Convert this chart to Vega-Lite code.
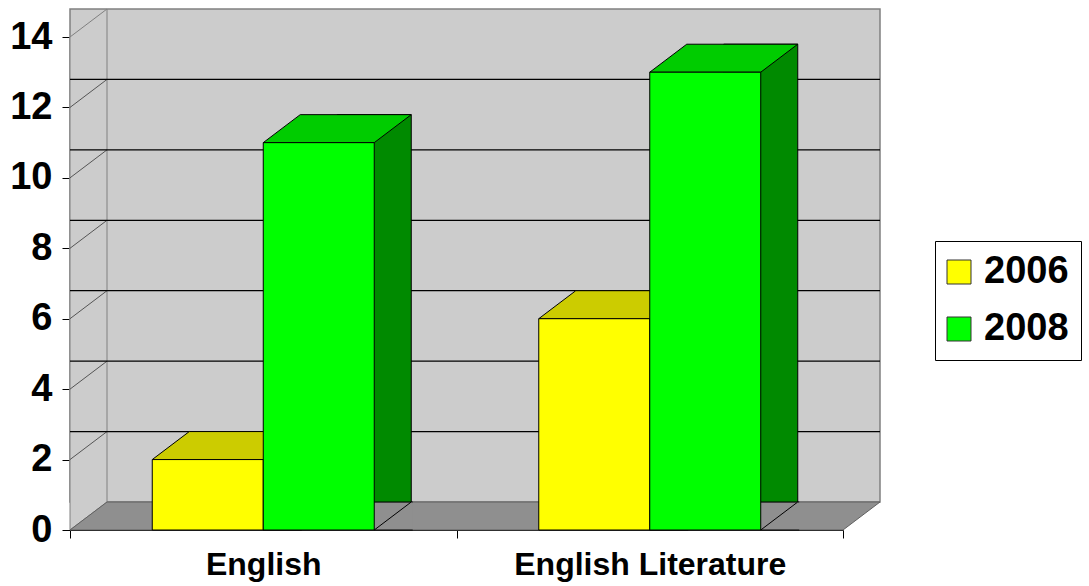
{
  "$schema": "https://vega.github.io/schema/vega-lite/v6.json",
  "width": 773,
  "height": 493,
  "autosize": {"type": "none"},
  "padding": {"left": 70, "top": 37, "right": 246, "bottom": 56},
  "background": "#ffffff",
  "config": {
    "view": {"stroke": null},
    "font": "Liberation Sans",
    "axisX": {"tickBand": "extent", "labelAngle": 0, "labelFontSize": 32, "labelFontWeight": "bold", "labelColor": "#000000", "labelPadding": 11, "labelLimit": 400, "tickSize": 8, "tickColor": "#000000", "domainColor": "#000000", "grid": false, "zindex": 1},
    "axisY": {"labelFontSize": 38, "labelFontWeight": "bold", "labelColor": "#000000", "labelPadding": 10, "tickSize": 8, "tickColor": "#000000", "domainColor": "#000000", "grid": false, "zindex": 1}
  },
  "datasets": {
    "scores": [
      {"subject": "English", "year": "2006", "value": 2},
      {"subject": "English", "year": "2008", "value": 11},
      {"subject": "English Literature", "year": "2006", "value": 6},
      {"subject": "English Literature", "year": "2008", "value": 13}
    ],
    "gridTicks": [{"tick": 2}, {"tick": 4}, {"tick": 6}, {"tick": 8}, {"tick": 10}, {"tick": 12}]
  },
  "data": {"name": "scores"},
  "layer": [
    {
      "data": {"values": [{}]},
      "mark": {"type": "rect", "fill": "#cccccc", "stroke": "#808080", "strokeWidth": 1.5, "xOffset": 37, "x2Offset": 37, "yOffset": -28, "y2Offset": -28},
      "encoding": {"y": {"datum": 0, "title": null}, "y2": {"datum": 14}}
    },
    {
      "data": {"values": [{}]},
      "mark": {"type": "point", "shape": "M0,0 L0,-493 L37,-521 L37,-28 Z", "size": 4, "filled": true, "fill": "#cccccc", "stroke": "#808080", "strokeWidth": 1, "opacity": 1},
      "encoding": {
        "x": {"datum": "English", "type": "nominal", "bandPosition": 0, "title": null},
        "y": {"datum": 0, "title": null}
      }
    },
    {
      "data": {"values": [{}]},
      "mark": {"type": "point", "shape": "M0,0 L37,-28 L810,-28 L773,0 Z", "size": 4, "filled": true, "fill": "#8f8f8f", "stroke": "#606060", "strokeWidth": 1, "opacity": 1},
      "encoding": {
        "x": {"datum": "English", "type": "nominal", "bandPosition": 0, "title": null},
        "y": {"datum": 0, "title": null}
      }
    },
    {
      "data": {"name": "gridTicks"},
      "mark": {"type": "point", "shape": "M0,0 L37,-28", "size": 4, "filled": false, "stroke": "#555555", "strokeWidth": 1, "opacity": 1},
      "encoding": {
        "x": {"datum": "English", "type": "nominal", "bandPosition": 0, "title": null},
        "y": {"field": "tick", "type": "quantitative", "title": null}
      }
    },
    {
      "data": {"name": "gridTicks"},
      "mark": {"type": "rule", "stroke": "#000000", "strokeWidth": 1.2, "xOffset": 37, "x2Offset": 37, "yOffset": -28},
      "encoding": {"y": {"field": "tick", "type": "quantitative", "title": null}}
    },
    {
      "transform": [{"filter": "datum.year === '2006'"}],
      "mark": {"type": "bar", "width": 74, "xOffset": 0, "yOffset": -28, "fill": "#999900", "stroke": "#000000", "strokeWidth": 1},
      "encoding": {
        "x": {"field": "subject", "type": "nominal", "title": null},
        "y": {"field": "value", "type": "quantitative", "title": null}
      }
    },
    {
      "transform": [{"filter": "datum.year === '2008'"}],
      "mark": {"type": "bar", "width": 74, "xOffset": 111, "yOffset": -28, "fill": "#008a00", "stroke": "#000000", "strokeWidth": 1},
      "encoding": {
        "x": {"field": "subject", "type": "nominal", "title": null},
        "y": {"field": "value", "type": "quantitative", "title": null}
      }
    },
    {
      "mark": {"type": "point", "shape": "M94,0 L55.5,0 L92.5,-28 L94,-28", "size": 4, "filled": true, "fill": "#8f8f8f", "stroke": "#000000", "strokeWidth": 1, "opacity": 1},
      "encoding": {
        "x": {"field": "subject", "type": "nominal", "title": null},
        "xOffset": {"field": "year"},
        "y": {"datum": 0, "title": null}
      }
    },
    {
      "mark": {"type": "point", "shape": "M-55.5,0 L55.5,0 L92.5,-28 L-18.5,-28 Z", "size": 4, "filled": true, "stroke": "#000000", "strokeWidth": 1, "opacity": 1},
      "encoding": {
        "x": {"field": "subject", "type": "nominal", "title": null},
        "xOffset": {"field": "year"},
        "y": {"field": "value", "type": "quantitative", "title": null},
        "fill": {"condition": {"test": "datum.year === '2006'", "value": "#cccc00"}, "value": "#00cc00"}
      }
    },
    {
      "mark": {"type": "bar", "stroke": "#000000", "strokeWidth": 1},
      "encoding": {
        "x": {"field": "subject", "type": "nominal", "title": null, "scale": {"paddingInner": 0, "paddingOuter": 0}},
        "xOffset": {"field": "year", "scale": {"paddingInner": 0, "paddingOuter": 0.741}},
        "y": {"field": "value", "type": "quantitative", "title": null, "scale": {"domain": [0, 14], "nice": false}, "axis": {"values": [0, 2, 4, 6, 8, 10, 12, 14]}},
        "color": {
          "field": "year",
          "type": "nominal",
          "scale": {"domain": ["2006", "2008"], "range": ["#ffff00", "#00ff00"]},
          "legend": {"orient": "none", "legendX": 865, "legendY": 204, "title": null, "strokeColor": "#000000", "fillColor": "#ffffff", "padding": 12, "symbolType": "square", "symbolSize": 576, "symbolOffset": -7, "symbolStrokeColor": "#333333", "symbolStrokeWidth": 1, "symbolOpacity": 1, "labelFontSize": 38, "labelFontWeight": "bold", "labelColor": "#000000", "labelOffset": 6, "rowPadding": 19}
        }
      }
    }
  ]
}
